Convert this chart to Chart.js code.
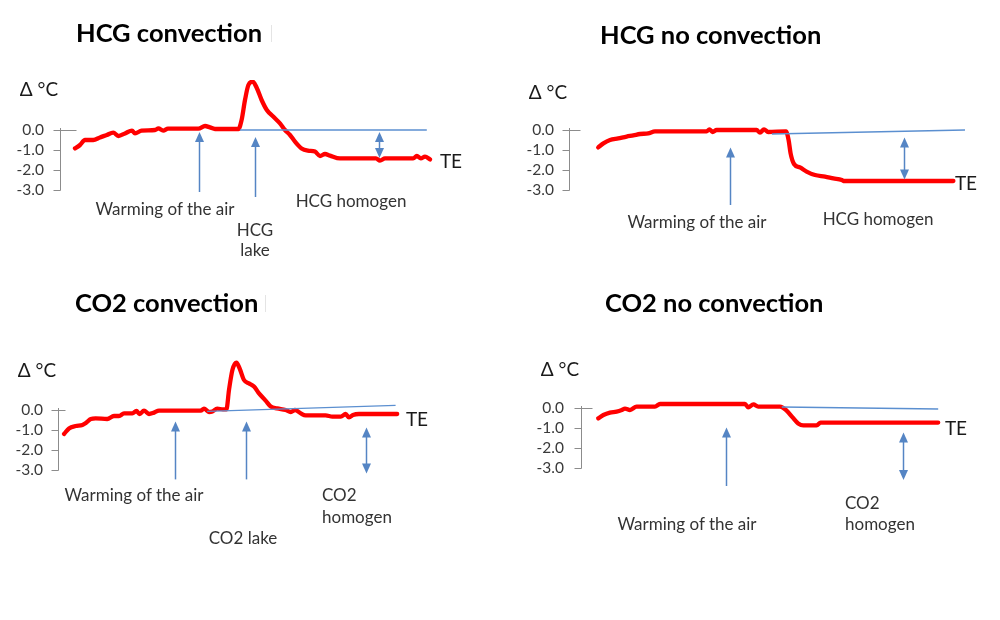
<!DOCTYPE html>
<html>
<head>
<meta charset="utf-8">
<script src="https://cdn.jsdelivr.net/npm/chart.js@4.4.1/dist/chart.umd.min.js"></script>
<style>
  html, body { margin:0; padding:0; background:#fff; }
  #page { position:relative; width:1000px; height:620px; overflow:hidden; background:#fff; font-family:Lato, "Open Sans", sans-serif; }
  canvas { position:absolute; }
  .t { position:absolute; transform:translate(-50%,-50%); white-space:nowrap; line-height:1; color:#333; font-size:17px; }
  .tl { position:absolute; transform:translate(0,-50%); white-space:nowrap; line-height:1; color:#333; font-size:17px; }
  .title { position:absolute; transform:translate(0,-50%); white-space:nowrap; line-height:1; color:#000; font-weight:bold; font-size:25.5px; }
  .unit { font-size:19px; color:#1a1a1a; }
  .te { font-size:19px; color:#1a1a1a; }
</style>
</head>
<body>
<div id="page">
  <canvas id="c1" width="500" height="300" style="left:0;top:0"></canvas>
  <canvas id="c2" width="500" height="300" style="left:500px;top:0"></canvas>
  <canvas id="c3" width="500" height="300" style="left:0;top:300px"></canvas>
  <canvas id="c4" width="500" height="300" style="left:500px;top:300px"></canvas>

  <div class="title" style="left:76px;top:33px">HCG convection</div>
  <div style="position:absolute;left:271px;top:25px;width:1px;height:17px;background:#e4e4e4"></div>
  <div class="title" style="left:600px;top:35px">HCG no convection</div>
  <div class="title" style="left:75px;top:303px">CO2 convection</div>
  <div style="position:absolute;left:265px;top:295px;width:1px;height:17px;background:#e4e4e4"></div>
  <div class="title" style="left:605px;top:303px">CO2 no convection</div>

  <div class="t unit" style="left:39px;top:88px">Δ °C</div>
  <div class="t te" style="left:451px;top:160px">TE</div>
  <div class="t" style="left:165px;top:208px">Warming of the air</div>
  <div class="t" style="left:255px;top:229px">HCG</div>
  <div class="t" style="left:255px;top:249px">lake</div>
  <div class="t" style="left:351px;top:200px">HCG homogen</div>

  <div class="t unit" style="left:548px;top:91px">Δ °C</div>
  <div class="t te" style="left:966px;top:182px">TE</div>
  <div class="t" style="left:697px;top:221px">Warming of the air</div>
  <div class="t" style="left:878px;top:218px">HCG homogen</div>

  <div class="t unit" style="left:37px;top:369px">Δ °C</div>
  <div class="t te" style="left:417px;top:418px">TE</div>
  <div class="t" style="left:134px;top:494px">Warming of the air</div>
  <div class="t" style="left:243px;top:537px">CO2 lake</div>
  <div class="tl" style="left:322px;top:494px">CO2</div>
  <div class="tl" style="left:322px;top:516px">homogen</div>

  <div class="t unit" style="left:560px;top:368px">Δ °C</div>
  <div class="t te" style="left:956px;top:427px">TE</div>
  <div class="t" style="left:687px;top:523px">Warming of the air</div>
  <div class="tl" style="left:845px;top:502px">CO2</div>
  <div class="tl" style="left:845px;top:523px">homogen</div>
</div>
<script>
// ---- Data (x: relative time 0..100, y: temperature difference in °C) ----
const yTicks = [0, -1, -2, -3];

// HCG convection
const p1X = [3.75,5,6.25,8.3,10,11.7,13.3,14.6,16.25,18,18.75,20.4,23.75,24.6,25.8,27,34.6,36.25,37.5,38.75,44.6,45.4,46.25,47.1,48.2,49.2,50.4,51.7,53.3,55,56.25,57.5,58.75,60.4,62,63.75,65,66.25,67.5,70,79,80,81.25,88.3,89.2,90.2,91.25,92.5];
const p1Y = [-0.92,-0.75,-0.5,-0.5,-0.37,-0.25,-0.13,-0.3,-0.17,-0.03,-0.17,-0.03,0,0.08,-0.03,0.07,0.07,0.2,0.13,0.05,0.05,0.5,1.5,2.25,2.42,2.1,1.5,1.0,0.67,0.33,0,-0.25,-0.58,-0.92,-1.03,-1.08,-1.3,-1.2,-1.28,-1.42,-1.42,-1.53,-1.42,-1.42,-1.3,-1.42,-1.33,-1.47];
const p1BaseX = [45, 91.7];
const p1BaseY = [0, 0];
// arrows: [x, tail y, head y, double-headed]
const p1Arrows = [[34.75,-3.1,-0.1,false],[48.75,-3.35,-0.35,false],[79.75,-1.4,-0.1,true]];

// HCG no convection
const p2X = [7.3,8.6,10.25,12.3,14.4,16.1,17.75,19.8,21.5,34.4,35.1,35.9,36.9,46.9,47.75,48.75,49.8,54.25,54.9,55.4,56.25,57.75,59.4,61.5,64,66.1,68.2,68.6,96.1];
const p2Y = [-0.87,-0.67,-0.5,-0.42,-0.33,-0.27,-0.2,-0.17,-0.07,-0.07,0.03,-0.1,0,0,-0.13,0.03,-0.1,-0.07,-0.5,-1.17,-1.7,-1.87,-2.08,-2.25,-2.33,-2.42,-2.5,-2.55,-2.55];
const p2BaseX = [50.7, 99];
const p2BaseY = [-0.2, 0];
const p2Arrows = [[40.25,-3.75,-0.87,false],[83.8,-2.47,-0.37,true]];

// CO2 convection
const p3X = [1.5,2.75,4.4,6.1,7.1,8.2,9.4,12.3,14,15.25,16.5,18.6,19.6,20.4,21.5,22.75,24,25.25,35.7,36.5,37.75,38.6,39.8,41.25,42.1,42.75,43.6,44.6,45.4,46.5,47.75,49,50.25,51.9,53.2,54.8,56.9,58.2,59.25,60.7,61.9,66.9,68.6,70.7,71.9,72.75,73.75,75.25,84.8];
const p3Y = [-1.2,-0.92,-0.8,-0.75,-0.63,-0.45,-0.42,-0.45,-0.3,-0.3,-0.17,-0.17,-0.05,-0.2,-0.03,-0.2,-0.13,-0.03,-0.03,0.07,-0.1,-0.07,0.07,0.03,0.03,1.0,2.0,2.37,2.08,1.5,1.33,1.17,0.83,0.47,0.17,0.08,0,-0.1,0,-0.17,-0.27,-0.27,-0.33,-0.33,-0.2,-0.37,-0.25,-0.2,-0.2];
const p3BaseX = [37.3, 84.4];
const p3BaseY = [-0.07, 0.23];
const p3Arrows = [[29.2,-3.47,-0.58,false],[46.9,-3.47,-0.58,false],[77.1,-3.17,-0.87,true]];

// CO2 no convection
const p4X = [4.3,5.6,7.25,8.9,10.2,11.0,12.25,13.9,18.5,19.75,41.0,41.8,43.1,44.3,49.75,51.4,52.9,54.3,55.6,58.9,59.9,89.3];
const p4Y = [-0.52,-0.35,-0.23,-0.18,-0.1,-0.03,-0.1,0.07,0.07,0.2,0.2,0.03,0.18,0.07,0.07,-0.13,-0.47,-0.77,-0.87,-0.87,-0.73,-0.73];
const p4BaseX = [50.2, 89.3];
const p4BaseY = [0.05, -0.05];
const p4Arrows = [[36.25,-3.9,-0.97,false],[80.6,-3.6,-1.23,true]];

// ---- Drawing ----
const pts = (xs, ys) => xs.map((x, i) => ({x, y: ys[i]}));

const deco = {
  id: 'deco',
  afterDraw(chart, args, o) {
    const {ctx, chartArea, scales: {x, y}} = chart;
    ctx.save();
    const ax = Math.round(chartArea.left) + 0.5;
    ctx.strokeStyle = '#8c8c8c';
    ctx.lineWidth = 1;
    ctx.beginPath();
    ctx.moveTo(ax, y.getPixelForValue(0) - 2);
    ctx.lineTo(ax, y.getPixelForValue(-3) + 0.5);
    ctx.stroke();
    yTicks.forEach(v => {
      const py = Math.round(y.getPixelForValue(v)) + 0.5;
      ctx.beginPath();
      ctx.moveTo(ax - 7, py);
      ctx.lineTo(ax + (v === 0 ? o.zeroRight : 0), py);
      ctx.stroke();
    });
    ctx.strokeStyle = '#5585c4';
    ctx.fillStyle = '#5585c4';
    ctx.lineWidth = 1.5;
    const head = (px, hy, dir) => {
      ctx.beginPath();
      ctx.moveTo(px, hy);
      ctx.lineTo(px - 4.5, hy + dir * 10);
      ctx.lineTo(px + 4.5, hy + dir * 10);
      ctx.closePath();
      ctx.fill();
    };
    o.arrows.forEach(([ax2, t, h, dbl]) => {
      const px = Math.round(x.getPixelForValue(ax2)) + 0.5;
      const ty = y.getPixelForValue(t), hy = y.getPixelForValue(h);
      const dir = ty > hy ? 1 : -1;
      ctx.beginPath();
      ctx.moveTo(px, dbl ? ty - dir * 8 : ty);
      ctx.lineTo(px, hy + dir * 8);
      ctx.stroke();
      head(px, hy, dir);
      if (dbl) head(px, ty, -dir);
    });
    ctx.restore();
  }
};

function panel(id, xs, ys, bx, by, arrows, L) {
  new Chart(document.getElementById(id), {
    type: 'line',
    data: {
      datasets: [
        { data: pts(bx, by), borderColor: '#5b8fd0', borderWidth: 1.3, pointRadius: 0, tension: 0 },
        { data: pts(xs, ys), borderColor: '#ff0000', borderWidth: 4.3, pointRadius: 0,
          cubicInterpolationMode: 'monotone', borderCapStyle: 'round', borderJoinStyle: 'round' }
      ]
    },
    options: {
      responsive: false,
      animation: false,
      events: [],
      layout: { padding: { left: 0, right: L.right, top: L.top, bottom: L.bottom } },
      plugins: {
        legend: { display: false },
        tooltip: { enabled: false },
        deco: { arrows, zeroRight: L.zeroRight }
      },
      scales: {
        x: { type: 'linear', min: 0, max: 100, display: false },
        y: {
          min: -3, max: 2.5,
          grid: { display: false, drawTicks: false },
          border: { display: false },
          afterBuildTicks: s => { s.ticks = yTicks.map(v => ({ value: v })); },
          afterFit: s => { s.width = L.w; },
          ticks: {
            padding: L.pad, color: '#3a3a3a',
            font: { family: 'Lato', size: 15.5 },
            callback: v => Number(v).toFixed(1)
          }
        }
      }
    },
    plugins: [deco]
  });
}

panel('c1', p1X, p1Y, p1BaseX, p1BaseY, p1Arrows, { w: 60, top: 80, bottom: 110, right: 40, pad: 16, zeroRight: 16 });
panel('c2', p2X, p2Y, p2BaseX, p2BaseY, p2Arrows, { w: 69, top: 80, bottom: 110, right: 31, pad: 15, zeroRight: 11 });
panel('c3', p3X, p3Y, p3BaseX, p3BaseY, p3Arrows, { w: 58, top: 60, bottom: 130, right: 42, pad: 15, zeroRight: 7 });
panel('c4', p4X, p4Y, p4BaseX, p4BaseY, p4Arrows, { w: 81, top: 58, bottom: 132, right: 19, pad: 17, zeroRight: 11 });
</script>
</body>
</html>
